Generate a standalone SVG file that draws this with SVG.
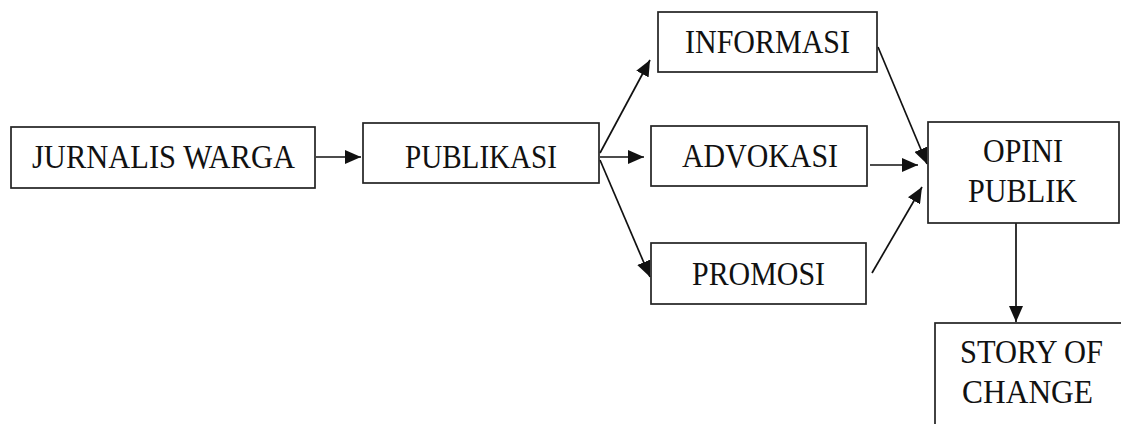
<svg xmlns="http://www.w3.org/2000/svg" width="1121" height="424" viewBox="0 0 1121 424">
<style>
.box{fill:#fff;stroke:#222;stroke-width:1.7}
.t{font-family:"Liberation Serif","Times New Roman",serif;font-size:34.5px;fill:#111;text-anchor:middle}
.c{stroke:#111;stroke-width:1.7;fill:none;marker-end:url(#ah)}
</style>
<defs>
<marker id="ah" markerUnits="userSpaceOnUse" markerWidth="17" markerHeight="14" refX="16" refY="7" orient="auto">
<path d="M0,0 L16,7 L0,14 z" fill="#111"/>
</marker>
</defs>
<rect width="1121" height="424" fill="#fff"/>
<g id="connectors">
<line class="c" x1="316" y1="157" x2="361" y2="157"/>
<line class="c" x1="600" y1="153" x2="650" y2="60"/>
<line class="c" x1="600" y1="157" x2="644" y2="157"/>
<line class="c" x1="600" y1="160" x2="650" y2="277"/>
<line class="c" x1="878" y1="47" x2="927" y2="164"/>
<line class="c" x1="870" y1="165" x2="918" y2="165"/>
<line class="c" x1="872" y1="273" x2="922" y2="187"/>
<line class="c" x1="1016" y1="223" x2="1016" y2="322"/>
</g>
<g id="jurnalis">
<rect class="box" x="11" y="127" width="304" height="61"/>
<text class="t" x="163.5" y="168" textLength="263" lengthAdjust="spacingAndGlyphs">JURNALIS WARGA</text>
</g>
<g id="publikasi">
<rect class="box" x="363" y="123" width="236" height="60"/>
<text class="t" x="481" y="168" textLength="152" lengthAdjust="spacingAndGlyphs">PUBLIKASI</text>
</g>
<g id="informasi">
<rect class="box" x="658" y="12" width="219" height="60"/>
<text class="t" x="767.5" y="53" textLength="165" lengthAdjust="spacingAndGlyphs">INFORMASI</text>
</g>
<g id="advokasi">
<rect class="box" x="651" y="126" width="216" height="60"/>
<text class="t" x="760" y="167" textLength="156" lengthAdjust="spacingAndGlyphs">ADVOKASI</text>
</g>
<g id="promosi">
<rect class="box" x="651" y="243" width="215" height="61"/>
<text class="t" x="758.5" y="285" textLength="133" lengthAdjust="spacingAndGlyphs">PROMOSI</text>
</g>
<g id="opini">
<rect class="box" x="928" y="122" width="191" height="101"/>
<text class="t" x="1023" y="162" textLength="80" lengthAdjust="spacingAndGlyphs">OPINI</text>
<text class="t" x="1022.5" y="202" textLength="109" lengthAdjust="spacingAndGlyphs">PUBLIK</text>
</g>
<g id="story">
<rect class="box" x="935" y="323" width="200" height="120"/>
<text class="t" x="1031.5" y="363" textLength="143" lengthAdjust="spacingAndGlyphs">STORY OF</text>
<text class="t" x="1027.5" y="403" textLength="131" lengthAdjust="spacingAndGlyphs">CHANGE</text>
</g>
</svg>
